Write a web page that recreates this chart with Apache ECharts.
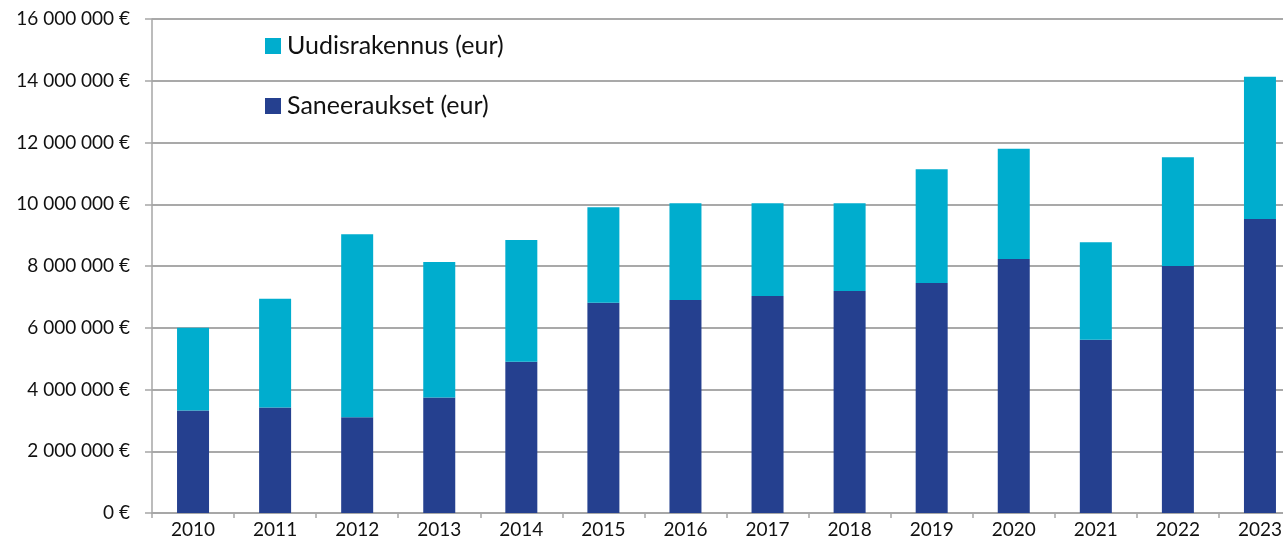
<!DOCTYPE html>
<html>
<head>
<meta charset="utf-8">
<script src="https://cdn.jsdelivr.net/npm/echarts@6/dist/echarts.min.js"></script>
<style>
  html, body { margin: 0; padding: 0; background: #fff; overflow: hidden; }
  #chart { width: 1301px; height: 539px; }
</style>
</head>
<body>
<div id="chart"></div>
<script>
// vuodet ja summat (eur), luettu kuvasta
const years = ['2010', '2011', '2012', '2013', '2014', '2015', '2016', '2017', '2018', '2019', '2020', '2021', '2022', '2023']
const saneeraukset = [3320000, 3420000, 3100000, 3740000, 4900000, 6810000, 6900000, 7030000, 7190000, 7450000, 8230000, 5610000, 8000000, 9520000]
const uudisrakennus = [2680000, 3520000, 5930000, 4390000, 3940000, 3090000, 3130000, 3000000, 2840000, 3680000, 3570000, 3160000, 3520000, 4610000]
const yTicks = [0, 2000000, 4000000, 6000000, 8000000, 10000000, 12000000, 14000000, 16000000]

const darkBlue = '#25408f'
const cyan = '#00adce'
const font = 'Lato, "Open Sans", sans-serif'

function euro(v) {
  return String(v).replace(/\B(?=(\d{3})+(?!\d))/g, ' ') + ' €'
}

// kuvan oikea reuna leikkaa viimeisen luokan, siksi div on ikkunaa leveämpi
const myChart = echarts.init(document.getElementById('chart'))
myChart.setOption({
  animation: false,
  textStyle: { fontFamily: font },
  grid: { left: 152, right: 0, top: 19, bottom: 24, containLabel: false },
  legend: {
    orient: 'vertical',
    left: 260,
    top: 28,
    itemGap: 34,
    itemWidth: 16,
    itemHeight: 16,
    icon: 'rect',
    data: ['Uudisrakennus (eur)', 'Saneeraukset (eur)'],
    textStyle: { color: '#111', fontSize: 25, lineHeight: 26, padding: [0, 0, 0, 1], fontFamily: font }
  },
  xAxis: {
    type: 'category',
    data: years,
    axisLine: { lineStyle: { color: '#a6a6a6', width: 1.5 } },
    axisTick: { show: true, length: 5, lineStyle: { color: '#a6a6a6', width: 1.5 } },
    axisLabel: { color: '#111', fontSize: 19, margin: 7, fontFamily: font }
  },
  yAxis: {
    type: 'value',
    min: yTicks[0],
    max: yTicks[yTicks.length - 1],
    interval: yTicks[1] - yTicks[0],
    axisLine: { show: true, lineStyle: { color: '#a6a6a6', width: 1.5 } },
    axisTick: { show: true, length: 7, lineStyle: { color: '#a6a6a6', width: 1.5 } },
    axisLabel: { color: '#111', fontSize: 19, margin: 22, fontFamily: font, formatter: euro },
    splitLine: { lineStyle: { color: '#8c8c8c', width: 1.5 } }
  },
  series: [
    { name: 'Saneeraukset (eur)', type: 'bar', stack: 'total', data: saneeraukset, barWidth: 32, itemStyle: { color: darkBlue } },
    { name: 'Uudisrakennus (eur)', type: 'bar', stack: 'total', data: uudisrakennus, barWidth: 32, itemStyle: { color: cyan } }
  ]
})
</script>
</body>
</html>
